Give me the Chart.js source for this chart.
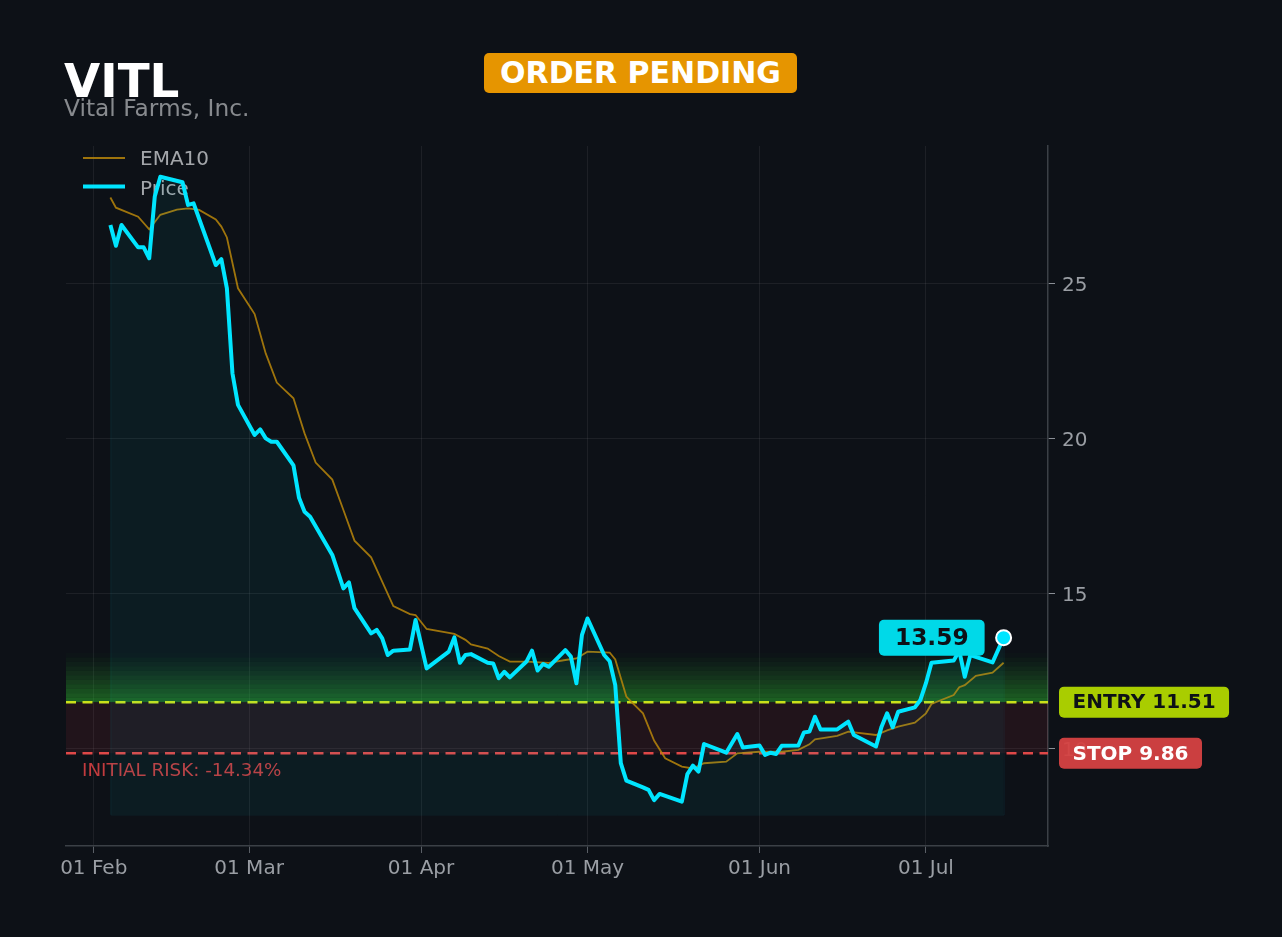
<!DOCTYPE html>
<html>
<head>
<meta charset="utf-8">
<script src="https://cdn.jsdelivr.net/npm/chart.js@4.4.1/dist/chart.umd.min.js"></script>
<style>
html,body{margin:0;padding:0;background:#0d1117;}
#wrap{position:relative;width:1282px;height:937px;overflow:hidden;background:#0d1117;}
#c{position:absolute;left:0;top:0;}
#ticker{position:absolute;left:64px;top:57.5px;font:bold 46.8px "DejaVu Sans";line-height:46.8px;color:#ffffff;white-space:nowrap;}
#company{position:absolute;left:64px;top:96.3px;font:23.3px "DejaVu Sans";line-height:23.3px;color:#878a8e;white-space:nowrap;}
#status{position:absolute;left:484px;top:53px;width:313px;height:40px;background:#e69500;border-radius:5px;color:#ffffff;font:bold 30px "DejaVu Sans";line-height:40px;text-align:center;white-space:nowrap;}
</style>
</head>
<body>
<div id="wrap">
<canvas id="c" width="1282" height="937"></canvas>
<div id="ticker"></div>
<div id="company"></div>
<div id="status"></div>
</div>
<script>
const ticker = "VITL";
const companyName = "Vital Farms, Inc.";
const orderStatus = "ORDER PENDING";

const priceDates = [
"2025-02-04","2025-02-05","2025-02-06","2025-02-09","2025-02-10","2025-02-11","2025-02-12","2025-02-13",
"2025-02-17","2025-02-18","2025-02-19","2025-02-23","2025-02-24","2025-02-25","2025-02-26","2025-02-27",
"2025-03-02","2025-03-03","2025-03-04","2025-03-05","2025-03-06","2025-03-09","2025-03-10","2025-03-11",
"2025-03-12","2025-03-16","2025-03-18","2025-03-19","2025-03-20","2025-03-23","2025-03-24","2025-03-25",
"2025-03-26","2025-03-27","2025-03-30","2025-03-31","2025-04-02","2025-04-06","2025-04-07","2025-04-08",
"2025-04-09","2025-04-10","2025-04-13","2025-04-14","2025-04-15","2025-04-16","2025-04-17","2025-04-20",
"2025-04-21","2025-04-22","2025-04-23","2025-04-24","2025-04-27","2025-04-28","2025-04-29","2025-04-30",
"2025-05-01","2025-05-04","2025-05-05","2025-05-06","2025-05-07","2025-05-08","2025-05-11","2025-05-12",
"2025-05-13","2025-05-14","2025-05-18","2025-05-19","2025-05-20","2025-05-21","2025-05-22","2025-05-26",
"2025-05-28","2025-05-29","2025-06-01","2025-06-02","2025-06-03","2025-06-04","2025-06-05","2025-06-08",
"2025-06-09","2025-06-10","2025-06-11","2025-06-12","2025-06-15","2025-06-17","2025-06-18","2025-06-22",
"2025-06-23","2025-06-24","2025-06-25","2025-06-26","2025-06-29","2025-06-30","2025-07-01","2025-07-02",
"2025-07-06","2025-07-07","2025-07-08","2025-07-09","2025-07-13","2025-07-15"
];
const priceValues = [
26.9,26.23,26.9,26.18,26.18,25.83,27.82,28.46,
28.28,27.55,27.6,25.61,25.8,24.86,22.12,21.1,
20.13,20.31,20.02,19.91,19.91,19.15,18.1,17.65,
17.49,16.26,15.18,15.37,14.54,13.73,13.84,13.57,
13.03,13.17,13.21,14.16,12.6,13.14,13.6,12.78,
13.03,13.06,12.78,12.76,12.28,12.49,12.31,12.82,
13.17,12.53,12.74,12.65,13.19,12.98,12.12,13.68,
14.21,13.03,12.83,12.06,9.54,8.98,8.76,8.68,
8.35,8.55,8.30,9.19,9.46,9.27,10.16,9.88,
10.48,10.05,10.11,9.81,9.88,9.84,10.1,10.11,
10.53,10.56,11.04,10.63,10.63,10.88,10.45,10.08,
10.72,11.15,10.7,11.2,11.34,11.58,12.12,12.78,
12.85,13.17,12.33,13.03,12.79,13.59
];

const emaDates = [
"2025-02-04","2025-02-05","2025-02-09","2025-02-11","2025-02-13","2025-02-16","2025-02-18","2025-02-20",
"2025-02-23","2025-02-24","2025-02-25","2025-02-27","2025-03-02","2025-03-04","2025-03-06","2025-03-09",
"2025-03-11","2025-03-13","2025-03-16","2025-03-18","2025-03-20","2025-03-23","2025-03-27","2025-03-30",
"2025-03-31","2025-04-02","2025-04-07","2025-04-09","2025-04-10","2025-04-13","2025-04-15","2025-04-17",
"2025-04-20","2025-04-24","2025-04-27","2025-04-29","2025-05-01","2025-05-05","2025-05-06","2025-05-08",
"2025-05-09","2025-05-11","2025-05-13","2025-05-15","2025-05-18","2025-05-20","2025-05-22","2025-05-26",
"2025-05-28","2025-06-01","2025-06-05","2025-06-08","2025-06-10","2025-06-11","2025-06-15","2025-06-17",
"2025-06-22","2025-06-24","2025-06-26","2025-06-29","2025-07-01","2025-07-02","2025-07-06","2025-07-07",
"2025-07-08","2025-07-10","2025-07-13","2025-07-15"
];
const emaValues = [
27.79,27.46,27.17,26.76,27.23,27.4,27.44,27.39,
27.08,26.85,26.5,24.86,24.03,22.76,21.82,21.31,
20.18,19.24,18.69,17.71,16.72,16.18,14.61,14.35,
14.32,13.87,13.71,13.52,13.37,13.24,13.0,12.82,
12.82,12.78,12.87,12.92,13.14,13.11,12.89,11.69,
11.5,11.15,10.27,9.7,9.43,9.37,9.54,9.59,
9.86,9.91,9.91,9.97,10.15,10.31,10.42,10.56,
10.45,10.6,10.72,10.85,11.15,11.45,11.74,11.99,
12.06,12.36,12.46,12.78
];

const monthTickDates = ["2025-02-01","2025-03-01","2025-04-01","2025-05-01","2025-06-01","2025-07-01"];
const monthTickLabels = ["01 Feb","01 Mar","01 Apr","01 May","01 Jun","01 Jul"];
const yTickValues = [10, 15, 20, 25];
const xRange = ["2025-01-27", "2025-07-23"];
const yRange = [6.87, 29.45];

const entryPrice = 11.51;
const stopPrice = 9.86;
const zoneTopPrice = 13.1;
const initialRiskPct = (stopPrice - entryPrice) / entryPrice * 100;

document.getElementById('ticker').textContent = ticker;
document.getElementById('company').textContent = companyName;
document.getElementById('status').textContent = orderStatus;

const toTs = s => Date.parse(s + "T00:00:00Z");
const priceData = priceDates.map((d, i) => ({x: toTs(d), y: priceValues[i]}));
const emaData = emaDates.map((d, i) => ({x: toTs(d), y: emaValues[i]}));
const tickTs = monthTickDates.map(toTs);
const fillBase = Math.min(...priceValues) * 0.95;

const CYAN = '#00e5ff';
const EMA_COLOR = 'rgba(184,134,11,0.85)';
const FONT = '"DejaVu Sans"';

function badge(ctx, text, x, yMid, bg, fg, fontSize, padX, h, alignRight) {
  ctx.save();
  ctx.font = 'bold ' + fontSize + 'px ' + FONT;
  const w = ctx.measureText(text).width + padX * 2;
  const left = alignRight ? x - w : x;
  ctx.fillStyle = bg;
  ctx.beginPath();
  ctx.roundRect(left, yMid - h / 2, w, h, 5);
  ctx.fill();
  ctx.fillStyle = fg;
  ctx.textBaseline = 'middle';
  ctx.textAlign = 'left';
  ctx.fillText(text, left + padX, yMid + 1);
  ctx.restore();
}

const overlay = {
  id: 'overlay',
  beforeDatasetsDraw(chart) {
    const {ctx, chartArea: a, scales: {x, y}} = chart;
    ctx.save();
    ctx.beginPath();
    ctx.rect(a.left, a.top, a.right - a.left, a.bottom - a.top);
    ctx.clip();
    const yE = y.getPixelForValue(entryPrice);
    const yS = y.getPixelForValue(stopPrice);
    // risk zone
    ctx.fillStyle = 'rgba(220,53,69,0.10)';
    ctx.fillRect(a.left, yE, a.right - a.left, yS - yE);
    // target zone stripes
    const N = 11;
    const yT = y.getPixelForValue(zoneTopPrice);
    const hStripe = (yE - yT) / N;
    for (let i = 0; i < N; i++) {
      const alpha = 0.42 * Math.pow(1 - i / N, 1.3);
      ctx.fillStyle = 'rgba(50,205,50,' + alpha.toFixed(3) + ')';
      ctx.fillRect(a.left, yE - (i + 1) * hStripe, a.right - a.left, hStripe);
    }
    // faint outline of price fill
    const x0 = x.getPixelForValue(priceData[0].x);
    const x1 = x.getPixelForValue(priceData[priceData.length - 1].x);
    const yb = y.getPixelForValue(fillBase);
    ctx.strokeStyle = 'rgba(0,229,255,0.07)';
    ctx.lineWidth = 1;
    ctx.beginPath();
    ctx.moveTo(x0 + 0.5, y.getPixelForValue(priceValues[0]));
    ctx.lineTo(x0 + 0.5, yb + 0.5);
    ctx.lineTo(x1 + 0.5, yb + 0.5);
    ctx.lineTo(x1 + 0.5, y.getPixelForValue(priceValues[priceValues.length - 1]));
    ctx.stroke();
    // dashed lines
    ctx.lineWidth = 2.5;
    ctx.setLineDash([10, 6.5]);
    ctx.strokeStyle = '#c9e11a';
    ctx.beginPath(); ctx.moveTo(a.left, yE); ctx.lineTo(a.right, yE); ctx.stroke();
    ctx.strokeStyle = '#e04848';
    ctx.beginPath(); ctx.moveTo(a.left, yS); ctx.lineTo(a.right, yS); ctx.stroke();
    ctx.setLineDash([]);
    // initial risk text
    ctx.font = '18.3px ' + FONT;
    ctx.fillStyle = '#c23b3e';
    ctx.textBaseline = 'alphabetic';
    ctx.fillText('INITIAL RISK: ' + initialRiskPct.toFixed(2) + '%', a.left + 16, yS + 23);
    ctx.restore();

    // legend
    ctx.save();
    ctx.lineCap = 'butt';
    ctx.strokeStyle = EMA_COLOR; ctx.lineWidth = 2;
    ctx.beginPath(); ctx.moveTo(83, 158); ctx.lineTo(125, 158); ctx.stroke();
    ctx.strokeStyle = CYAN; ctx.lineWidth = 4;
    ctx.beginPath(); ctx.moveTo(83, 186.5); ctx.lineTo(125, 186.5); ctx.stroke();
    ctx.font = '20px ' + FONT;
    ctx.fillStyle = '#a3a6aa';
    ctx.textBaseline = 'alphabetic';
    ctx.fillText('EMA10', 140, 165.3);
    ctx.fillText('Price', 140, 194.5);
    ctx.restore();
  },
  afterDatasetsDraw(chart) {
    const {ctx, chartArea: a, scales: {x, y}} = chart;
    const last = priceData[priceData.length - 1];
    const px = x.getPixelForValue(last.x);
    const py = y.getPixelForValue(last.y);
    badge(ctx, last.y.toFixed(2), px - 19, py, '#00d9e8', '#0d1117', 23.3, 16, 36, true);
    badge(ctx, 'ENTRY ' + entryPrice.toFixed(2), a.right + 11, y.getPixelForValue(entryPrice), '#a9cd00', '#0d1117', 20, 13.5, 31, false);
    badge(ctx, 'STOP ' + stopPrice.toFixed(2), a.right + 11, y.getPixelForValue(stopPrice), 'rgba(214,66,66,0.95)', '#ffffff', 20, 13.5, 31, false);
  }
};

const gridColor = 'rgba(255,255,255,0.065)';
const tickFont = {family: 'DejaVu Sans', size: 20};

new Chart(document.getElementById('c'), {
  type: 'line',
  data: {
    datasets: [
      {
        label: 'Price',
        data: priceData,
        borderColor: CYAN,
        borderWidth: 4,
        backgroundColor: 'rgba(0,229,255,0.05)',
        fill: {value: fillBase},
        tension: 0,
        borderJoinStyle: 'round',
        pointRadius: c => (c.dataIndex === priceData.length - 1 ? 7.5 : 0),
        pointBackgroundColor: CYAN,
        pointBorderColor: '#ffffff',
        pointBorderWidth: 2,
        order: 0
      },
      {
        label: 'EMA10',
        data: emaData,
        borderColor: EMA_COLOR,
        borderWidth: 1.8,
        fill: false,
        tension: 0,
        pointRadius: 0,
        order: 1
      }
    ]
  },
  options: {
    responsive: false,
    animation: false,
    events: [],
    layout: {padding: {left: 66, top: 146, right: 0, bottom: 0}},
    plugins: {legend: {display: false}, tooltip: {enabled: false}},
    scales: {
      x: {
        type: 'linear',
        min: toTs(xRange[0]),
        max: toTs(xRange[1]),
        afterBuildTicks: s => { s.ticks = tickTs.map(v => ({value: v})); },
        afterFit: s => { s.height = 91; },
        ticks: {
          autoSkip: false, maxRotation: 0, padding: 4,
          color: '#9a9ea4', font: tickFont,
          callback: v => monthTickLabels[tickTs.indexOf(v)]
        },
        grid: {color: gridColor, tickColor: '#5a5f66', tickLength: 7},
        border: {color: '#3b4046', width: 1.5}
      },
      y: {
        position: 'right',
        min: yRange[0],
        max: yRange[1],
        afterBuildTicks: s => { s.ticks = yTickValues.map(v => ({value: v})); },
        afterFit: s => { s.width = 234; },
        ticks: {padding: 7, labelOffset: 2, color: '#9a9ea4', font: tickFont, callback: v => String(v)},
        grid: {color: gridColor, tickColor: '#8a8f96', tickLength: 7},
        border: {color: '#3b4046', width: 1.5}
      }
    }
  },
  plugins: [overlay]
});
</script>
</body>
</html>
